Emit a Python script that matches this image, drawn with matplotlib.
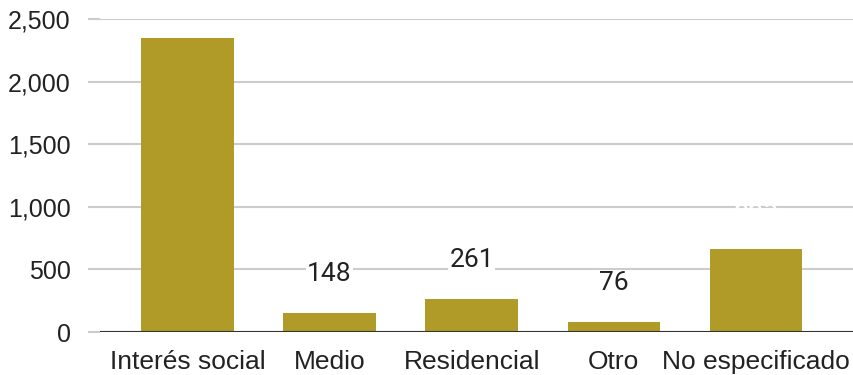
import matplotlib.pyplot as plt
import numpy as np

categories = ["Interés social", "Medio", "Residencial", "Otro", "No especificado"]
values = [2350, 148, 261, 76, 665]
label_colors = ["white", "#222222", "#222222", "#222222", "white"]

bar_color = "#B09A28"

fig = plt.figure(figsize=(8.54, 3.75), dpi=100)
ax = fig.add_axes([100 / 854, 1 - 332 / 375, 1 - 100 / 854, (332 - 19) / 375])

x = np.arange(len(categories))
ax.bar(x, values, width=0.65, color=bar_color, zorder=3)

# value labels sit a fixed distance above each bar (skip ones above the frame)
for xi, v, c in zip(x, values, label_colors):
    y = v + 315
    if y > 2450:
        continue
    ax.text(xi, y, f"{v:,}", ha="center", va="center", fontsize=19,
            family="Roboto", color=c, zorder=4,
            bbox=dict(facecolor="white", edgecolor="none", pad=1) if c != "white" else None)

ax.set_xlim(-0.615, 4.69)
ax.set_ylim(0, 2500)
ax.set_yticks(np.arange(0, 2501, 500))
ax.yaxis.set_major_formatter(plt.FuncFormatter(lambda v, p: f"{int(v):,}"))
ax.set_xticks(x)
ax.set_xticklabels(categories)

ax.grid(axis="y", color="#cccccc", linewidth=1.5, zorder=0)
ax.axhline(0, color="#333333", linewidth=1.5, zorder=5)
for s in ax.spines.values():
    s.set_visible(False)

ax.tick_params(axis="y", length=9, color="#cccccc", width=1.5, labelsize=18,
               labelcolor="#222222", pad=12)
ax.tick_params(axis="x", length=0, labelsize=19, labelcolor="#222222", pad=13)
for lbl in ax.get_xticklabels() + ax.get_yticklabels():
    lbl.set_family("Liberation Sans")

fig.savefig("out.png", dpi=100, facecolor="white")
